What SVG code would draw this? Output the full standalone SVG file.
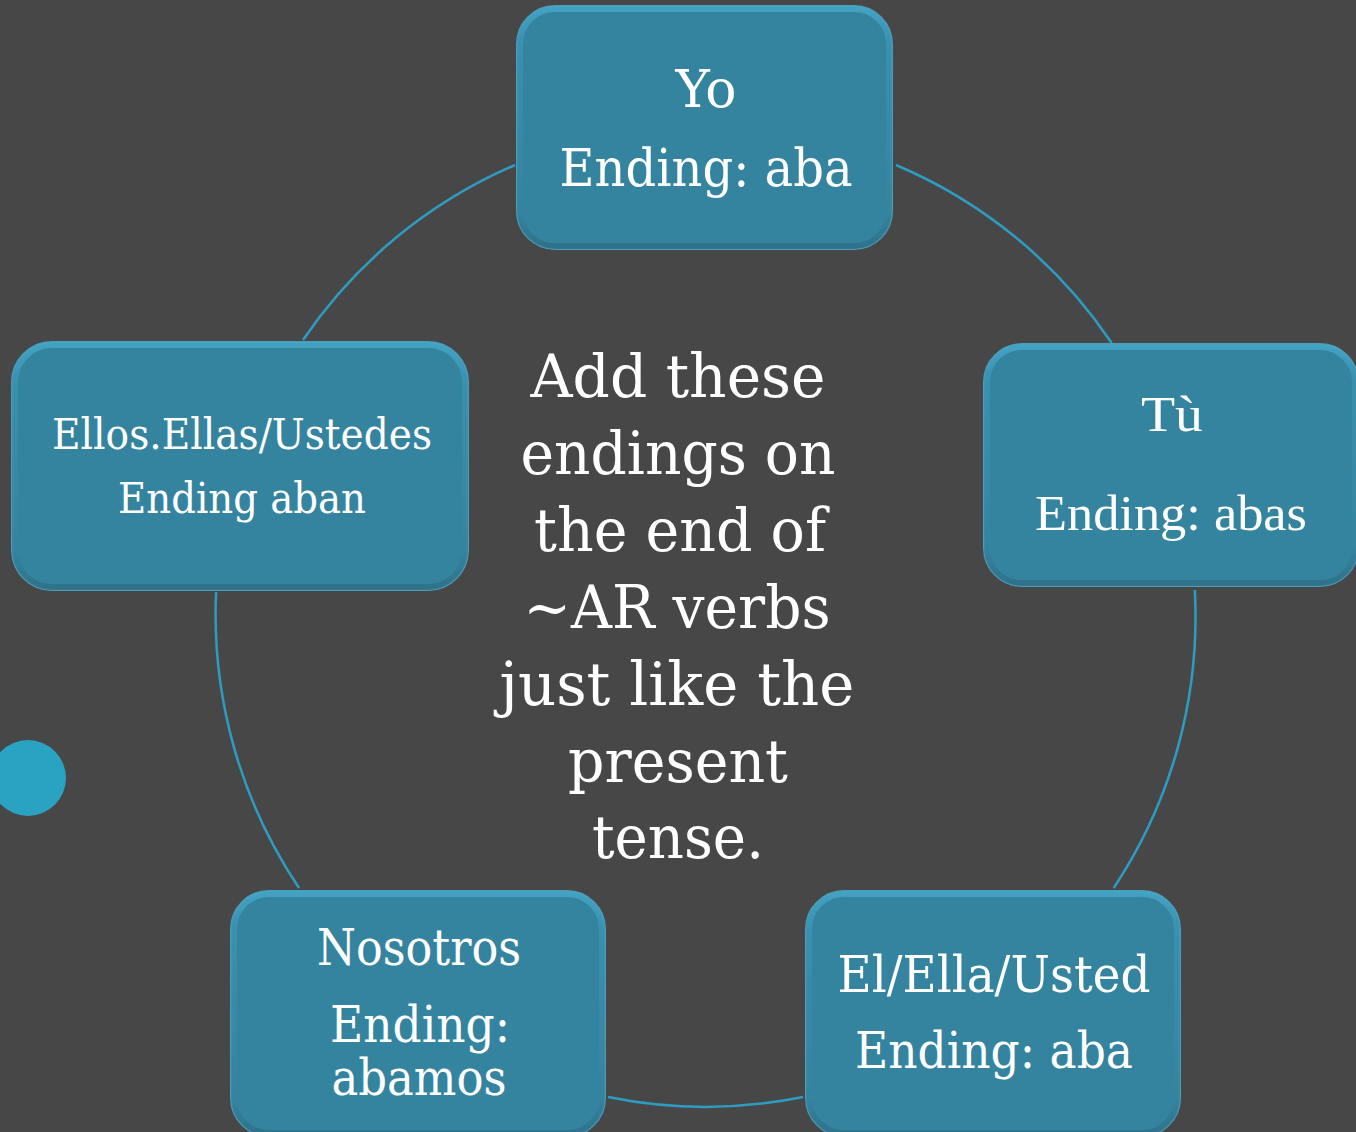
<svg xmlns="http://www.w3.org/2000/svg" width="1356" height="1132" viewBox="0 0 1356 1132">
<defs>
<linearGradient id="edge" x1="0" y1="0" x2="0" y2="1">
<stop offset="0" stop-color="#45a6c8"/>
<stop offset="0.15" stop-color="#3a92b2"/>
<stop offset="0.85" stop-color="#35849f"/>
<stop offset="1" stop-color="#2e6f87"/>
</linearGradient>
<style>
.box{fill:#35849f;stroke:#4d9cb8;stroke-width:2}
.bevel{fill:none;stroke:url(#edge);stroke-width:6;stroke-opacity:0.85}
.conn{fill:none;stroke:#2e9cc2;stroke-width:2.5}
.t{fill:#ffffff;font-family:"DejaVu Serif","Liberation Serif",serif;text-anchor:middle}
.t2{fill:#ffffff;font-family:"Liberation Serif","DejaVu Serif",serif;text-anchor:middle}
</style>
</defs>
<rect x="0" y="0" width="1356" height="1132" fill="#474747"/>
<circle cx="28" cy="778" r="38" fill="#2aa3c2"/>
<g id="connectors">
<path class="conn" d="M896,165 A490,490 0 0,1 1111.7,343"/>
<path class="conn" d="M1194.8,590 A490,490 0 0,1 1113.7,888"/>
<path class="conn" d="M803,1097 A490,490 0 0,1 608,1097"/>
<path class="conn" d="M299,888 A490,490 0 0,1 216.1,592"/>
<path class="conn" d="M303,340 A490,490 0 0,1 515,165"/>
</g>
<g id="center-text">
<text class="t" font-size="60" x="678" y="397" textLength="295" lengthAdjust="spacingAndGlyphs">Add these</text>
<text class="t" font-size="60" x="678" y="474" textLength="315" lengthAdjust="spacingAndGlyphs">endings on</text>
<text class="t" font-size="60" x="680" y="551" textLength="292" lengthAdjust="spacingAndGlyphs">the end of</text>
<text class="t" font-size="60" x="677" y="628" textLength="307" lengthAdjust="spacingAndGlyphs">~AR verbs</text>
<text class="t" font-size="60" x="677" y="705" textLength="355" lengthAdjust="spacingAndGlyphs">just like the</text>
<text class="t" font-size="60" x="678" y="782" textLength="220" lengthAdjust="spacingAndGlyphs">present</text>
<text class="t" font-size="60" x="678" y="858" textLength="172" lengthAdjust="spacingAndGlyphs">tense.</text>
</g>
<g id="node-yo">
<rect class="box" x="517" y="6" width="375" height="243" rx="38"/>
<rect class="bevel" x="520" y="9" width="369" height="237" rx="35"/>
<text class="t" font-size="52" x="706" y="107" textLength="61" lengthAdjust="spacingAndGlyphs">Yo</text>
<text class="t" font-size="52" x="706" y="186" textLength="293" lengthAdjust="spacingAndGlyphs">Ending: aba</text>
</g>
<g id="node-tu">
<rect class="box" x="984" y="344" width="374" height="242" rx="38"/>
<rect class="bevel" x="987" y="347" width="368" height="236" rx="35"/>
<text class="t2" font-size="50" x="1172" y="431" textLength="62" lengthAdjust="spacingAndGlyphs">Tù</text>
<text class="t2" font-size="50" x="1171" y="530" textLength="272" lengthAdjust="spacingAndGlyphs">Ending: abas</text>
</g>
<g id="node-el">
<rect class="box" x="806" y="891" width="374" height="245" rx="38"/>
<rect class="bevel" x="809" y="894" width="368" height="239" rx="35"/>
<text class="t" font-size="50" x="994" y="992" textLength="313" lengthAdjust="spacingAndGlyphs">El/Ella/Usted</text>
<text class="t" font-size="50" x="994" y="1068" textLength="278" lengthAdjust="spacingAndGlyphs">Ending: aba</text>
</g>
<g id="node-nosotros">
<rect class="box" x="231" y="891" width="374" height="245" rx="38"/>
<rect class="bevel" x="234" y="894" width="368" height="239" rx="35"/>
<text class="t" font-size="50" x="419" y="965" textLength="204" lengthAdjust="spacingAndGlyphs">Nosotros</text>
<text class="t" font-size="50" x="420" y="1042" textLength="180" lengthAdjust="spacingAndGlyphs">Ending:</text>
<text class="t" font-size="50" x="419" y="1095" textLength="175" lengthAdjust="spacingAndGlyphs">abamos</text>
</g>
<g id="node-ellos">
<rect class="box" x="12" y="342" width="456" height="248" rx="40"/>
<rect class="bevel" x="15" y="345" width="450" height="242" rx="37"/>
<text class="t" font-size="42" x="242" y="449" textLength="380" lengthAdjust="spacingAndGlyphs">Ellos.Ellas/Ustedes</text>
<text class="t" font-size="42" x="242" y="513" textLength="248" lengthAdjust="spacingAndGlyphs">Ending aban</text>
</g>
</svg>
